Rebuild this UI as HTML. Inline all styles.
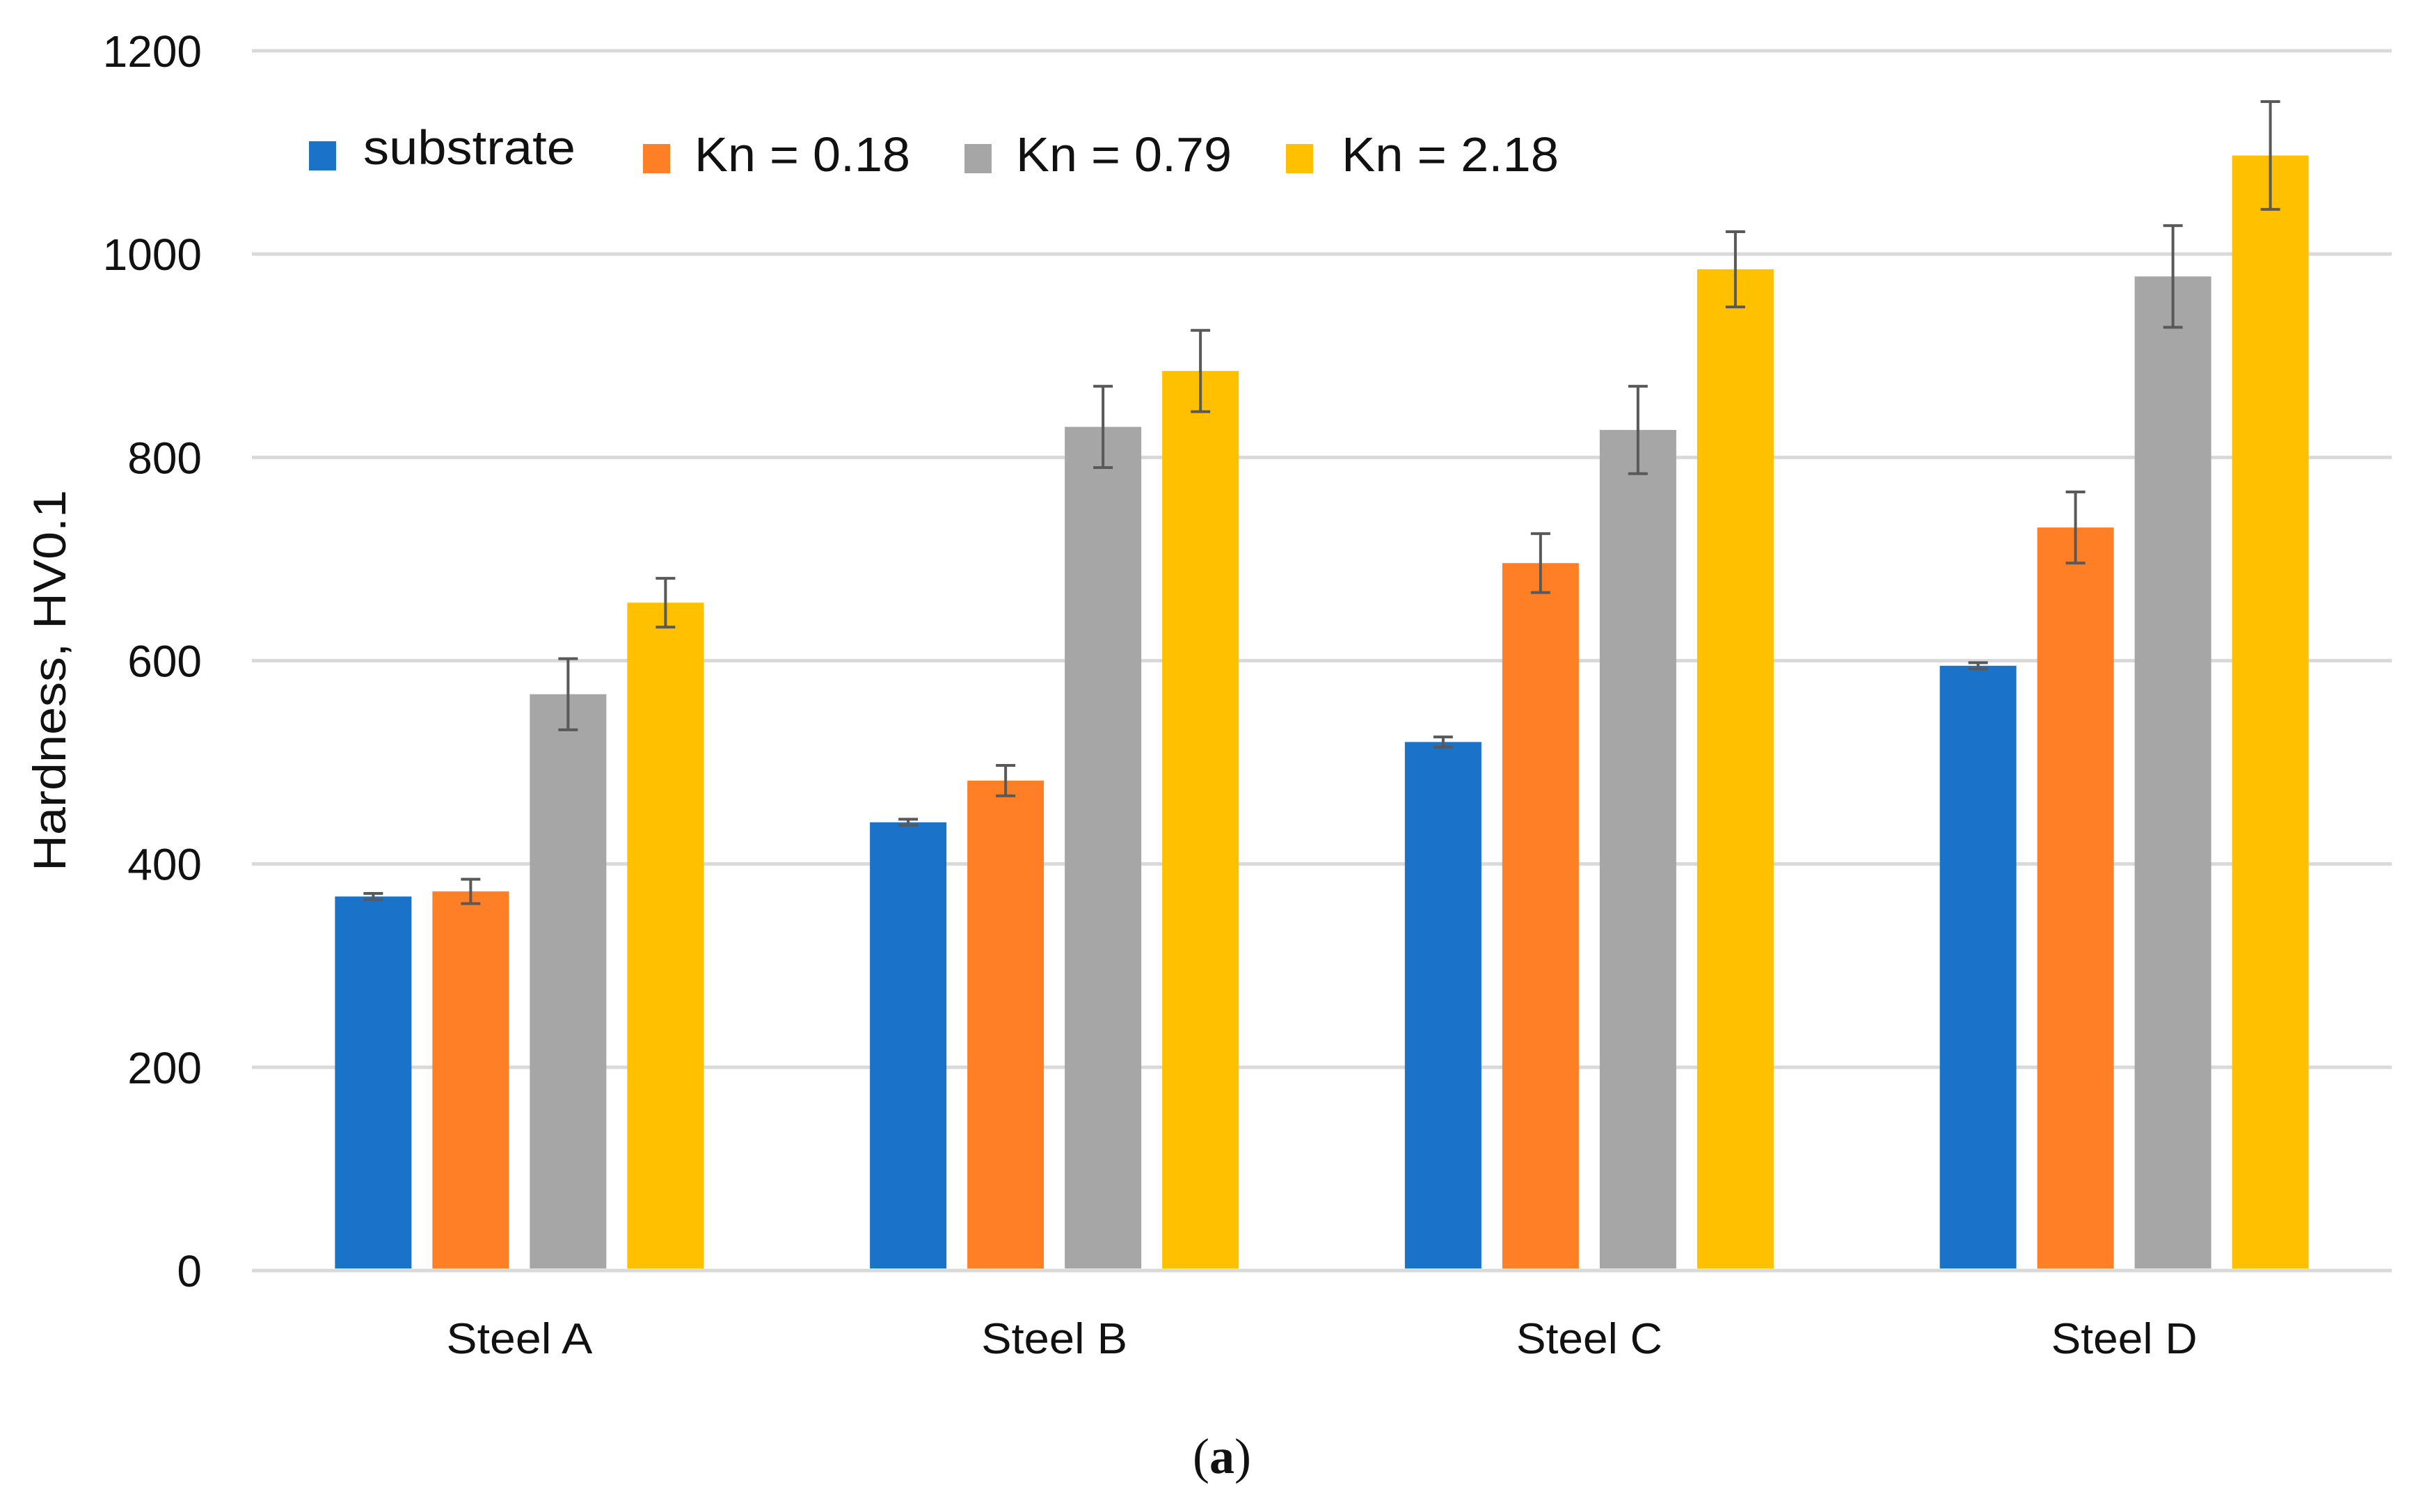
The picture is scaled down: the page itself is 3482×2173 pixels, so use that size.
<!DOCTYPE html>
<html><head><meta charset="utf-8"><style>
html,body{margin:0;padding:0;background:#fff;}
svg{display:block;}
text{font-family:"Liberation Sans",sans-serif;fill:#111;}
</style></head><body>
<svg id="chart" width="3482" height="2173" viewBox="0 0 3482 2173" xmlns="http://www.w3.org/2000/svg">
<g id="grid"></g>
<g id="yticks"></g>
<g id="bars"></g>
<g id="errs"></g>
<g id="xlabels"></g>
<text transform="translate(94,978) rotate(-90)" text-anchor="middle" font-size="66" textLength="548" lengthAdjust="spacingAndGlyphs">Hardness, HV0.1</text>
<g id="legend"></g>
<text x="1756" y="2117" text-anchor="middle" font-size="72" style="font-family:'Liberation Serif',serif">(<tspan font-weight="bold">a</tspan>)</text>
</svg>
<script>
const categories = ["Steel A","Steel B","Steel C","Steel D"];
const seriesNames = ["substrate","Kn = 0.18","Kn = 0.79","Kn = 2.18"];
const substrate = [368,441,520,595];
const kn018 = [373,482,696,731];
const kn079 = [567,830,827,978];
const kn218 = [657,885,985,1097];
const errSubstrate = [3,3,5,3];
const errKn018 = [12,15,29,35];
const errKn079 = [35,40,43,50];
const errKn218 = [24,40,37,53];
const yTicks = [0,200,400,600,800,1000,1200];

const colors = ["#1a73c8","#ff7f27","#a6a6a6","#ffc000"];
const series = [substrate,kn018,kn079,kn218];
const errs = [errSubstrate,errKn018,errKn079,errKn218];
const NS = "http://www.w3.org/2000/svg";
const x0 = 362, x1 = 3437, yTop = 73, yBot = 1826, yMax = 1200;
const y = v => yBot - (v / yMax) * (yBot - yTop);
const catW = (x1 - x0) / categories.length;
const barW = 110, step = 140;
const barX = (ci, si) => x0 + catW * (ci + 0.5) - (3 * step + barW) / 2 + si * step;
function mk(tag, attrs, parent){const e=document.createElementNS(NS,tag);for(const k in attrs)e.setAttribute(k,attrs[k]);parent.appendChild(e);return e;}

const grid = document.getElementById('grid'), yt = document.getElementById('yticks');
yTicks.forEach(t => {
  const l = mk('line',{x1:x0,x2:x1,y1:y(t),y2:y(t),stroke:'#d9d9d9','stroke-width':5},grid);
  
  
  const tx = mk('text',{x:290,y:y(t)+23,'text-anchor':'end','font-size':64},yt);
  tx.textContent = t;
  
  
});
const bars = document.getElementById('bars'), eg = document.getElementById('errs');
series.forEach((s, si) => s.forEach((v, ci) => {
  const bx = barX(ci, si);
  const r = mk('rect',{x:bx,y:y(v),width:barW,height:yBot - 3 - y(v),fill:colors[si]},bars);
  
  
  const cx = bx + barW / 2, e = errs[si][ci];
  const g = mk('g',{stroke:'#595959','stroke-width':4},eg);
  
  
  mk('line',{x1:cx,x2:cx,y1:y(v+e),y2:y(v-e)},g);
  mk('line',{x1:cx-14,x2:cx+14,y1:y(v+e),y2:y(v+e)},g);
  mk('line',{x1:cx-14,x2:cx+14,y1:y(v-e),y2:y(v-e)},g);
}));
const xl = document.getElementById('xlabels');
categories.forEach((c, ci) => {
  const t = mk('text',{x:x0 + catW*(ci+0.5),y:1945,'text-anchor':'middle','font-size':62,textLength:210,lengthAdjust:'spacingAndGlyphs'},xl);
  t.textContent = c;
  
  
});
const lg = document.getElementById('legend');
const legMarkX = [444,924,1386,1848], legTextX = [522,998,1460,1928], legTextW = [305,310,310,312];
seriesNames.forEach((n, i) => {
  const g = mk('g',{},lg);
  
  
  mk('rect',{x:legMarkX[i],y:i===0?203:207,width:39,height:42,fill:colors[i]},g);
  const t = mk('text',{x:legTextX[i],y:i===0?236:246,'font-size':70,textLength:legTextW[i],lengthAdjust:'spacingAndGlyphs'},g);
  t.textContent = n;
});
</script>
</body></html>
